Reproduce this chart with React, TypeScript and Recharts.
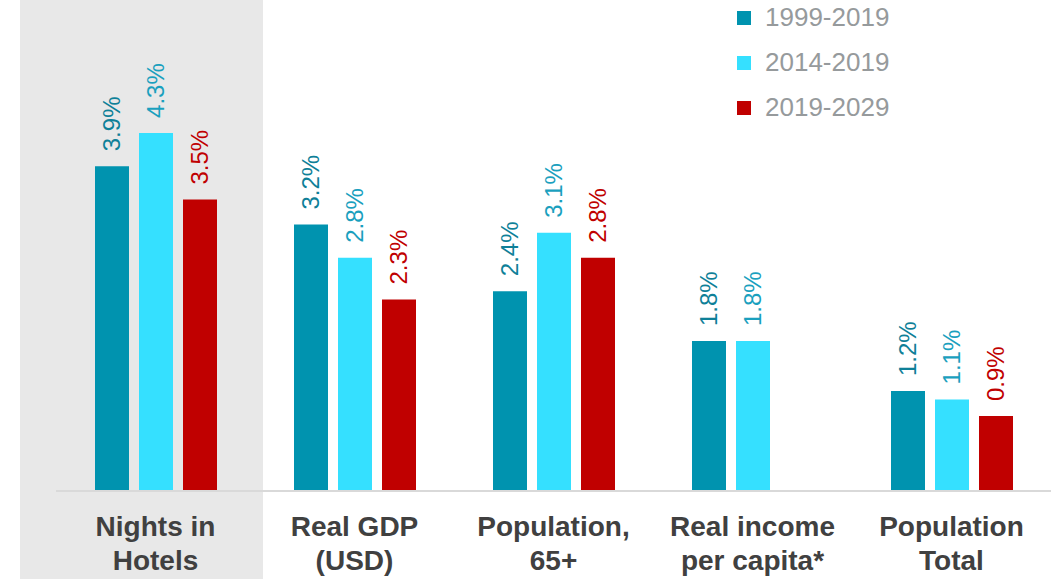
import { BarChart, Bar, XAxis, YAxis, LabelList } from "recharts";

const categories = ["Nights in|Hotels", "Real GDP|(USD)", "Population,|65+", "Real income|per capita*", "Population|Total"];
const s1999 = [3.9, 3.2, 2.4, 1.8, 1.2];
const s2014 = [4.3, 2.8, 3.1, 1.8, 1.1];
const s2019 = [3.5, 2.3, 2.8, null, 0.9];

const series = [
  { key: "a", name: "1999-2019", fill: "#0093AF", label: "#0E8098" },
  { key: "b", name: "2014-2019", fill: "#35E0FF", label: "#1AA0BE" },
  { key: "c", name: "2019-2029", fill: "#C00000", label: "#C00000" },
];

const data = categories.map((c, i) => ({ cat: c, a: s1999[i], b: s2014[i], c: s2019[i] }));

const FONT = "'Liberation Sans', Arial, sans-serif";

function CatTick(props: any) {
  const { x, y, payload } = props;
  const lines = String(payload.value).split("|");
  return (
    <text x={x} y={y} textAnchor="middle" fill="#404040" fontFamily={FONT} fontSize={28} fontWeight="bold">
      {lines.map((l, i) => (
        <tspan key={i} x={x} dy={i === 0 ? 37 : 34}>{l}</tspan>
      ))}
    </text>
  );
}

function makeLabel(color: string) {
  return (props: any) => {
    const { x, y, width, value } = props;
    if (value == null) return null;
    const cx = x + width / 2;
    const cy = y - 15;
    return (
      <text x={cx} y={cy} transform={`rotate(-90 ${cx} ${cy})`} textAnchor="start" dominantBaseline="central"
        fill={color} fontFamily={FONT} fontSize={24}>
        {value.toFixed(1)}%
      </text>
    );
  };
}

function LegendBox() {
  return (
    <div style={{ position: "absolute", left: 737, top: -5, fontFamily: FONT }}>
      {series.map((s) => (
        <div key={s.key} style={{ display: "flex", alignItems: "center", height: 45 }}>
          <span style={{ width: 14, height: 14, background: s.fill, display: "inline-block", marginRight: 14 }} />
          <span style={{ color: "#969A9C", fontSize: 26 }}>{s.name}</span>
        </div>
      ))}
    </div>
  );
}

export default function App() {
  return (
    <div style={{ position: "absolute", left: 0, top: 0, width: 1063, height: 579, background: "#fff" }}>
      <div style={{ position: "absolute", left: 20, top: 0, width: 243, height: 579, background: "#E8E8E8" }} />
      <div style={{ position: "absolute", left: 0, top: 0 }}>
        <BarChart width={1063} height={579} data={data} margin={{ top: 33, right: 12, bottom: 0, left: 56 }}
          barSize={34} barGap={10}>
          <XAxis dataKey="cat" tick={<CatTick />} tickLine={false} axisLine={{ stroke: "#D9D9D9", strokeWidth: 2 }} interval={0} height={88} />
          <YAxis hide domain={[0, 5.5]} />
          {series.map((s) => (
            <Bar key={s.key} dataKey={s.key} name={s.name} fill={s.fill} isAnimationActive={false}>
              <LabelList dataKey={s.key} content={makeLabel(s.label)} />
            </Bar>
          ))}
        </BarChart>
      </div>
      <LegendBox />
    </div>
  );
}
